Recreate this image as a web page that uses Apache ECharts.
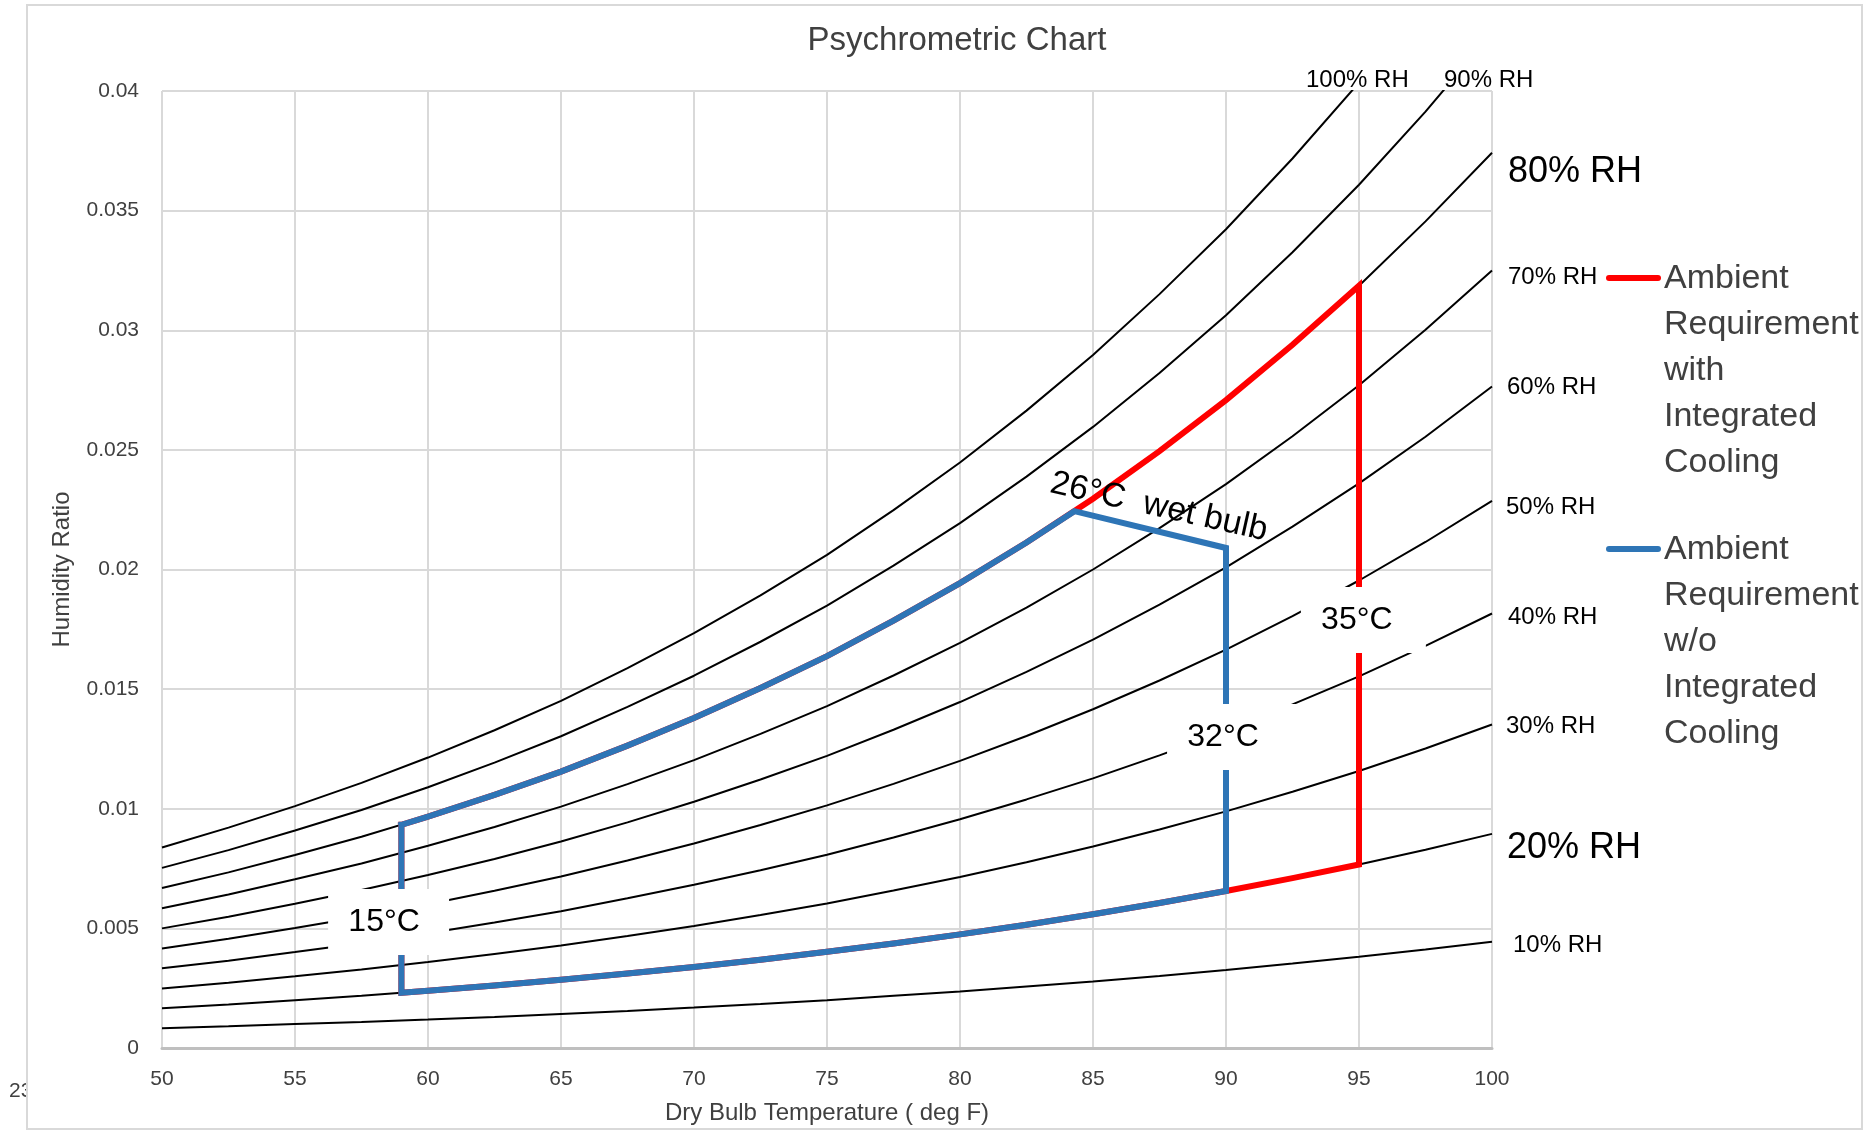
<!DOCTYPE html>
<html>
<head>
<meta charset="UTF-8">
<title>Psychrometric Chart</title>
<script src="https://cdn.jsdelivr.net/npm/echarts@6/dist/echarts.min.js"></script>
<style>html,body{margin:0;padding:0;background:#fff;}</style>
</head>
<body>
<div id="chart" style="width:1870px;height:1131px;"></div>
<script>
// dry bulb temperature (deg F) for the RH curves
var dryBulb = [50, 52.5, 55, 57.5, 60, 62.5, 65, 67.5, 70, 72.5, 75, 77.5, 80, 82.5, 85, 87.5, 90, 92.5, 95, 97.5, 100];

// humidity ratio along each relative humidity curve
var rh100 = [0.00838, 0.00921, 0.01011, 0.01108, 0.01214, 0.01328, 0.01451, 0.01588, 0.01734, 0.01892, 0.02061, 0.02248, 0.02447, 0.02664, 0.02897, 0.03151, 0.03422, 0.03718, 0.04035, 0.04379, 0.04749];
var rh90 = [0.00753, 0.00827, 0.00909, 0.00995, 0.01090, 0.01193, 0.01303, 0.01426, 0.01556, 0.01698, 0.01849, 0.02016, 0.02194, 0.02388, 0.02596, 0.02821, 0.03063, 0.03326, 0.03608, 0.03914, 0.04242];
var rh80 = [0.00669, 0.00734, 0.00807, 0.00883, 0.00967, 0.01058, 0.01155, 0.01264, 0.01379, 0.01505, 0.01638, 0.01786, 0.01943, 0.02113, 0.02296, 0.02495, 0.02708, 0.02939, 0.03186, 0.03455, 0.03742];
var rh70 = [0.00584, 0.00642, 0.00705, 0.00771, 0.00845, 0.00924, 0.01009, 0.01103, 0.01203, 0.01313, 0.01429, 0.01557, 0.01693, 0.01841, 0.02000, 0.02173, 0.02357, 0.02557, 0.02770, 0.03002, 0.03250];
var rh60 = [0.00500, 0.00549, 0.00603, 0.00660, 0.00723, 0.00790, 0.00863, 0.00943, 0.01029, 0.01122, 0.01221, 0.01330, 0.01446, 0.01572, 0.01707, 0.01853, 0.02009, 0.02179, 0.02360, 0.02555, 0.02765];
var rh50 = [0.00416, 0.00457, 0.00502, 0.00549, 0.00601, 0.00657, 0.00717, 0.00784, 0.00855, 0.00932, 0.01014, 0.01104, 0.01200, 0.01304, 0.01416, 0.01536, 0.01665, 0.01805, 0.01954, 0.02115, 0.02287];
var rh40 = [0.00333, 0.00365, 0.00401, 0.00438, 0.00480, 0.00525, 0.00572, 0.00626, 0.00682, 0.00743, 0.00808, 0.00880, 0.00956, 0.01039, 0.01127, 0.01223, 0.01325, 0.01436, 0.01553, 0.01681, 0.01816];
var rh30 = [0.00249, 0.00273, 0.00300, 0.00328, 0.00359, 0.00393, 0.00428, 0.00468, 0.00510, 0.00556, 0.00604, 0.00658, 0.00715, 0.00776, 0.00842, 0.00913, 0.00989, 0.01071, 0.01158, 0.01252, 0.01352];
var rh20 = [0.00166, 0.00182, 0.00200, 0.00218, 0.00239, 0.00261, 0.00285, 0.00311, 0.00339, 0.00369, 0.00402, 0.00437, 0.00475, 0.00515, 0.00559, 0.00606, 0.00656, 0.00710, 0.00767, 0.00829, 0.00895];
var rh10 = [0.00083, 0.00091, 0.00100, 0.00109, 0.00119, 0.00130, 0.00142, 0.00155, 0.00169, 0.00184, 0.00200, 0.00218, 0.00236, 0.00257, 0.00278, 0.00301, 0.00326, 0.00353, 0.00381, 0.00412, 0.00444];
var rhNames = ['100% RH', '90% RH', '80% RH', '70% RH', '60% RH', '50% RH', '40% RH', '30% RH', '20% RH', '10% RH'];

// ambient envelope with integrated cooling (red)
var withCoolingT = [59, 60, 62.5, 65, 67.5, 70, 72.5, 75, 77.5, 80, 82.5, 85, 87.5, 90, 92.5, 95, 95, 92.5, 90, 87.5, 85, 82.5, 80, 77.5, 75, 72.5, 70, 67.5, 65, 62.5, 60, 59, 59];
var withCoolingW = [0.00933, 0.00967, 0.01058, 0.01155, 0.01264, 0.01379, 0.01505, 0.01638, 0.01786, 0.01943, 0.02113, 0.02296, 0.02495, 0.02708, 0.02939, 0.03186, 0.00767, 0.00710, 0.00656, 0.00606, 0.00559, 0.00515, 0.00475, 0.00437, 0.00402, 0.00369, 0.00339, 0.00311, 0.00285, 0.00261, 0.00239, 0.00231, 0.00933];

// ambient envelope without integrated cooling (blue)
var withoutCoolingT = [59, 60, 62.5, 65, 67.5, 70, 72.5, 75, 77.5, 80, 82.5, 84.3, 90, 90, 87.5, 85, 82.5, 80, 77.5, 75, 72.5, 70, 67.5, 65, 62.5, 60, 59, 59];
var withoutCoolingW = [0.00933, 0.00967, 0.01058, 0.01155, 0.01264, 0.01379, 0.01505, 0.01638, 0.01786, 0.01943, 0.02113, 0.02244, 0.02090, 0.00656, 0.00606, 0.00559, 0.00515, 0.00475, 0.00437, 0.00402, 0.00369, 0.00339, 0.00311, 0.00285, 0.00261, 0.00239, 0.00231, 0.00933];

var envelopeNames = ['Ambient Requirement with Integrated Cooling', 'Ambient Requirement w/o Integrated Cooling'];
var tempLabels = ['15°C', '32°C', '35°C'];
var wetBulbLabel = '26°C  wet bulb';

// ---- layout (annotations) ----
var FONT = '"Liberation Sans", Arial, sans-serif';
var GREY = '#404040';
var BLUE = '#2e75b6';
var RED = '#ff0000';
var rhLabelPos = [[1306, 80, 24], [1444, 80, 24], [1508, 172, 36], [1508, 277, 24], [1507, 387, 24],
                  [1506, 507, 24], [1508, 617, 24], [1506, 726, 24], [1507, 848, 36], [1513, 945, 24]];
var tempAnchor = [[58.35, 0.00527], [89.89, 0.0130], [94.92, 0.01789]];
var tempBoxRight = [65, 77, 69];

function pairs(xs, ys) {
  return xs.map(function (x, i) { return [x, ys[i]]; });
}

var chart = echarts.init(document.getElementById('chart'));

var rhCurves = [rh100, rh90, rh80, rh70, rh60, rh50, rh40, rh30, rh20, rh10];
var series = rhCurves.map(function (vals, k) {
  return {
    name: rhNames[k],
    type: 'line',
    symbol: 'none',
    silent: true,
    z: 2,
    lineStyle: { color: '#000', width: 2 },
    data: pairs(dryBulb, vals)
  };
});
series.push({
  name: envelopeNames[0], type: 'line', symbol: 'none', z: 3,
  lineStyle: { color: RED, width: 6, join: 'miter', cap: 'square' },
  data: pairs(withCoolingT, withCoolingW)
});
series.push({
  name: envelopeNames[1], type: 'line', symbol: 'none', z: 4,
  lineStyle: { color: BLUE, width: 6, join: 'miter', cap: 'square' },
  data: pairs(withoutCoolingT, withoutCoolingW)
});

chart.setOption({
  animation: false,
  backgroundColor: '#fff',
  title: {
    text: 'Psychrometric Chart',
    left: 952, top: 19, textAlign: 'center',
    textStyle: { fontFamily: FONT, fontSize: 33, fontWeight: 'normal', color: GREY }
  },
  grid: { left: 162, right: 378, top: 91, bottom: 83 },
  xAxis: {
    type: 'value', min: 50, max: 100, interval: 5,
    name: 'Dry Bulb Temperature ( deg F)', nameLocation: 'middle', nameGap: 53,
    nameTextStyle: { fontFamily: FONT, fontSize: 24, color: GREY },
    axisLine: { show: true, lineStyle: { color: '#bfbfbf', width: 3 } },
    axisTick: { show: false },
    axisLabel: { margin: 21, fontFamily: FONT, fontSize: 21, color: GREY },
    splitLine: { show: true, lineStyle: { color: '#d9d9d9', width: 2 } }
  },
  yAxis: {
    type: 'value', min: 0, max: 0.04, interval: 0.005,
    name: 'Humidity Ratio', nameLocation: 'middle', nameGap: 88,
    nameTextStyle: { fontFamily: FONT, fontSize: 24, color: GREY },
    axisLine: { show: false },
    axisTick: { show: false },
    axisLabel: { margin: 23, fontFamily: FONT, fontSize: 21, color: GREY },
    splitLine: { show: true, lineStyle: { color: '#d9d9d9', width: 2 } }
  },
  series: series
});

// ---- annotations ----
function px(t, w) { return chart.convertToPixel({ gridIndex: 0 }, [t, w]); }
var g = [];

// outer chart frame and the stray clipped page number
g.push({ type: 'text', x: 9, y: 1091, z: 50,
  style: { text: '23', fontFamily: FONT, fontSize: 21, fill: GREY, verticalAlign: 'middle' } });
g.push({ type: 'rect', shape: { x: 28, y: 1076, width: 22, height: 30 }, z: 51, style: { fill: '#fff' } });
g.push({ type: 'rect', shape: { x: 27, y: 5, width: 1835, height: 1124 }, z: 52,
  style: { fill: 'none', stroke: '#d9d9d9', lineWidth: 2 } });

// RH curve labels
rhNames.forEach(function (name, k) {
  var p = rhLabelPos[k];
  g.push({ type: 'text', x: p[0], y: p[1], z: 60,
    style: { text: name, fontFamily: FONT, fontSize: p[2], fill: '#000', verticalAlign: 'middle' } });
});

// temperature call-outs with white boxes
tempLabels.forEach(function (txt, k) {
  var c = px(tempAnchor[k][0], tempAnchor[k][1]);
  g.push({ type: 'rect', z: 70,
    shape: { x: c[0] - 56, y: c[1] - 33, width: 56 + tempBoxRight[k], height: 66 },
    style: { fill: '#fff' } });
  g.push({ type: 'text', x: c[0], y: c[1], z: 71,
    style: { text: txt, fontFamily: FONT, fontSize: 32, fill: '#000', align: 'center', verticalAlign: 'middle' } });
});

// wet bulb label
var wb = px(87.48, 0.02261);
g.push({ type: 'text', x: wb[0], y: wb[1], rotation: -0.22, z: 72,
  style: { text: wetBulbLabel, fontFamily: FONT, fontSize: 34, fill: '#000', align: 'center', verticalAlign: 'middle' } });

// legend
var legendY = [279, 550];
var legendColor = [RED, BLUE];
var legendText = ['Ambient\nRequirement\nwith\nIntegrated\nCooling', 'Ambient\nRequirement\nw/o\nIntegrated\nCooling'];
legendY.forEach(function (y, k) {
  g.push({ type: 'line', z: 60, shape: { x1: 1609, y1: y - 1, x2: 1658, y2: y - 1 },
    style: { stroke: legendColor[k], lineWidth: 6, lineCap: 'round' } });
  g.push({ type: 'text', x: 1664, y: y - 23, z: 60,
    style: { text: legendText[k], fontFamily: FONT, fontSize: 34, lineHeight: 46, fill: GREY, verticalAlign: 'top' } });
});

chart.setOption({ graphic: g });
</script>
</body>
</html>
